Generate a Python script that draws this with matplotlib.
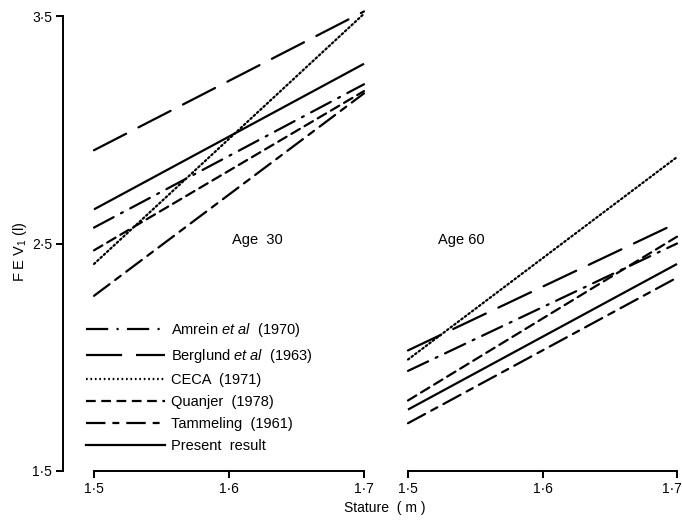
import matplotlib
matplotlib.use("Agg")
import matplotlib.pyplot as plt
import matplotlib.transforms as mtransforms
from matplotlib.lines import Line2D

plt.rcParams['font.family'] = ['Liberation Sans', 'DejaVu Sans']
plt.rcParams['mathtext.fontset'] = 'custom'
plt.rcParams['mathtext.it'] = 'Liberation Sans:italic'
plt.rcParams['mathtext.rm'] = 'Liberation Sans'
plt.rcParams['lines.scale_dashes'] = False

# ---- data ----
stature = [1.5, 1.7]
series_names = [r"Amrein $\mathit{et\ al}$  (1970)",
                r"Berglund $\mathit{et\ al}$  (1963)",
                "CECA  (1971)",
                "Quanjer  (1978)",
                "Tammeling  (1961)",
                "Present  result"]
age30_amrein = [2.57, 3.20]
age30_berglund = [2.91, 3.52]
age30_ceca = [2.41, 3.51]
age30_quanjer = [2.47, 3.17]
age30_tammeling = [2.27, 3.16]
age30_present = [2.65, 3.29]

age60_amrein = [1.94, 2.50]
age60_berglund = [2.03, 2.59]
age60_ceca = [1.99, 2.88]
age60_quanjer = [1.81, 2.53]
age60_tammeling = [1.71, 2.35]
age60_present = [1.77, 2.41]

xticks = [1.5, 1.6, 1.7]
xticklabels = ["1·5", "1·6", "1·7"]
yticks = [1.5, 2.5, 3.5]
yticklabels = ["1·5", "2·5", "3·5"]

# line styles (in points)
styles = [
    dict(dashes=(0, (16, 6, 1.5, 6))),    # Amrein: long dash - dot
    dict(dashes=(0, (26, 10))),            # Berglund: long dash
    dict(dashes=(0, (1.2, 2.0))),          # CECA: dotted
    dict(dashes=(0, (7, 4))),              # Quanjer: short dash
    dict(dashes=(0, (14, 5, 5, 5))),       # Tammeling: long-short dash
    dict(linestyle='-'),                   # Present
]

age30 = [age30_amrein, age30_berglund, age30_ceca, age30_quanjer, age30_tammeling, age30_present]
age60 = [age60_amrein, age60_berglund, age60_ceca, age60_quanjer, age60_tammeling, age60_present]

W, H = 682, 520
fig = plt.figure(figsize=(W / 100, H / 100), dpi=100)

def fx(px):
    return px / W

def fy(py):
    return 1 - py / H

ax1 = fig.add_axes([fx(94), fy(471), fx(364) - fx(94), fy(16) - fy(471)])
ax2 = fig.add_axes([fx(408), fy(471), fx(677) - fx(408), fy(16) - fy(471)])

lw = 1.6
fs = 10
for ax, data in ((ax1, age30), (ax2, age60)):
    for vals, st in zip(data, styles):
        kw = dict(color='black', lw=lw, clip_on=False, solid_capstyle='butt',
                  dash_capstyle='round')
        if 'dashes' in st:
            kw['linestyle'] = st['dashes']
        else:
            kw['linestyle'] = st['linestyle']
        ax.plot(stature, vals, **kw)
    ax.set_xlim(1.5, 1.7)
    ax.set_ylim(1.5, 3.5)
    ax.set_xticks(xticks)
    ax.set_xticklabels(xticklabels, fontsize=fs)
    ax.spines['top'].set_visible(False)
    ax.spines['right'].set_visible(False)
    ax.spines['bottom'].set_linewidth(1.4)
    ax.spines['bottom'].set_bounds(1.5, 1.7)
    ax.tick_params(axis='x', direction='out', length=5, width=1.4, pad=3)
    ax.patch.set_visible(False)

# keep the rightmost tick label inside the picture
lab = ax2.get_xticklabels()[-1]
lab.set_transform(lab.get_transform() +
                  mtransforms.ScaledTranslation(-5 / 100, 0, fig.dpi_scale_trans))

ax1.spines['left'].set_position(('outward', 22.3))
ax1.spines['left'].set_linewidth(1.4)
ax1.spines['left'].set_bounds(1.5, 3.5)
ax1.set_yticks(yticks)
ax1.set_yticklabels(yticklabels, fontsize=fs)
ax1.tick_params(axis='y', direction='out', length=5, width=1.4, pad=3)

ax2.spines['left'].set_visible(False)
ax2.set_yticks([])

ax1.text(1.621, 2.515, "Age  30", ha='center', va='center', fontsize=10.5)
ax2.text(1.540, 2.515, "Age 60", ha='center', va='center', fontsize=10.5)

fig.text(fx(20), fy(252), r"F E V$_{1}$ (l)", rotation=90, ha='center', va='center',
         fontsize=10.5)
fig.text(fx(385), fy(508), "Stature  ( m )", ha='center', va='center', fontsize=fs)

handles = []
for name, st in zip(series_names, styles):
    ls = st['dashes'] if 'dashes' in st else st['linestyle']
    handles.append(Line2D([0], [0], color='black', lw=lw, linestyle=ls))
leg = ax1.legend(handles, series_names, loc='upper left',
                 bbox_to_anchor=(fx(86), fy(321)), bbox_transform=fig.transFigure,
                 frameon=False, fontsize=10.5, handlelength=5.4, handletextpad=0.4,
                 labelspacing=0.55, borderpad=0, borderaxespad=0)

fig.savefig("out.png", dpi=100)
